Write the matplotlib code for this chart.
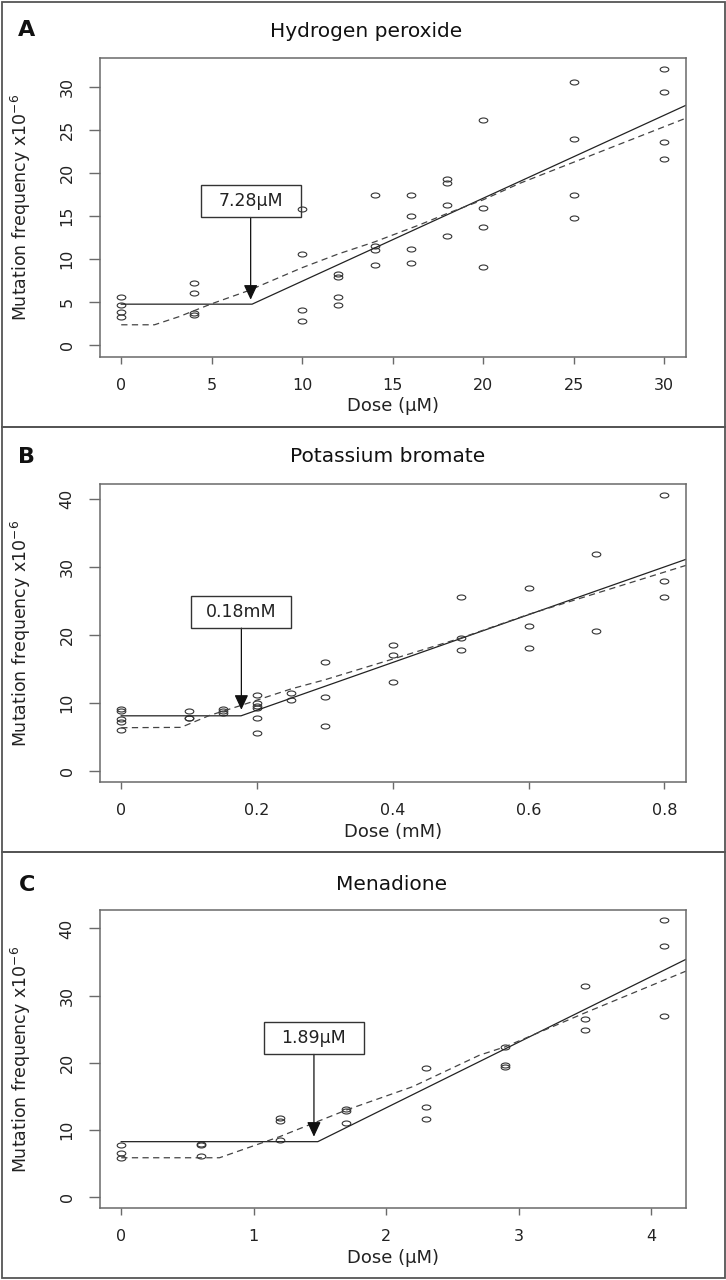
import numpy as np
import matplotlib
matplotlib.use("Agg")
import matplotlib.pyplot as plt
from matplotlib.path import Path
from matplotlib.transforms import Affine2D
from matplotlib.patches import Rectangle

# ---- data ----
# A: hydrogen peroxide
h2o2_dose = [0, 0, 0, 0, 4, 4, 4, 4, 10, 10, 10, 10, 12, 12, 12, 12,
             14, 14, 14, 14, 16, 16, 16, 16, 18, 18, 18, 18, 20, 20, 20, 20,
             25, 25, 25, 25, 30, 30, 30, 30]
h2o2_freq = [5.54, 4.65, 3.88, 3.22, 7.17, 6.05, 3.68, 3.49,
             15.78, 10.62, 4.03, 2.83, 8.22, 7.87, 5.54, 4.61,
             17.4, 11.47, 11.05, 9.26, 17.48, 15.04, 11.12, 9.53,
             19.3, 18.84, 16.32, 12.64, 26.2, 15.97, 13.76, 9.03,
             30.6, 23.99, 17.48, 14.77, 32.1, 29.5, 23.6, 21.6]
h2o2_fit_x = [0, 7.23, 31.2]
h2o2_fit_y = [4.75, 4.75, 27.9]
h2o2_smooth_x = [0, 1.84, 3.2, 5.0, 7.0, 10, 12, 14, 16.5, 18, 20, 22, 26, 31.2]
h2o2_smooth_y = [2.35, 2.35, 3.3, 4.8, 6.3, 9.0, 10.6, 12.0, 14.0, 15.3, 16.9, 18.8, 22.1, 26.4]

# B: potassium bromate
kbro3_dose = [0, 0, 0, 0, 0, 0.1, 0.1, 0.1, 0.15, 0.15, 0.15,
              0.2, 0.2, 0.2, 0.2, 0.2, 0.2, 0.25, 0.25, 0.3, 0.3, 0.3,
              0.4, 0.4, 0.4, 0.5, 0.5, 0.5, 0.6, 0.6, 0.6, 0.7, 0.7,
              0.8, 0.8, 0.8]
kbro3_freq = [9.18, 8.79, 7.61, 7.26, 6.13, 8.79, 7.9, 7.8, 9.08, 8.79, 8.59,
              11.14, 10.01, 9.57, 9.33, 7.9, 5.64, 11.48, 10.5, 16.05, 10.9, 6.63,
              18.5, 17.08, 13.15, 25.67, 19.53, 17.77, 26.94, 21.4, 18.06, 32.0, 20.66,
              40.69, 28.0, 25.57]
kbro3_fit_x = [0, 0.1765, 0.832]
kbro3_fit_y = [8.15, 8.15, 31.17]
kbro3_smooth_x = [0, 0.088, 0.13, 0.174, 0.25, 0.3, 0.4, 0.5, 0.6, 0.832]
kbro3_smooth_y = [6.4, 6.45, 8.2, 9.6, 12.1, 13.45, 16.5, 19.58, 23.07, 30.28]

# C: menadione
mena_dose = [0, 0, 0, 0.6, 0.6, 0.6, 1.2, 1.2, 1.2, 1.7, 1.7, 1.7,
             2.3, 2.3, 2.3, 2.9, 2.9, 2.9, 3.5, 3.5, 3.5, 4.1, 4.1, 4.1]
mena_freq = [7.65, 6.51, 5.76, 7.85, 7.65, 6.11, 11.73, 11.33, 8.4,
             13.02, 12.72, 10.98, 19.18, 13.37, 11.63, 22.36, 19.63, 19.33,
             31.45, 26.48, 24.84, 41.19, 37.42, 26.88]
mena_fit_x = [0, 1.484, 4.264]
mena_fit_y = [8.2, 8.2, 35.4]
mena_smooth_x = [0, 0.742, 1.195, 1.7, 2.2, 2.705, 2.9, 3.5, 4.264]
mena_smooth_y = [5.8, 5.8, 8.94, 12.92, 16.4, 21.1, 22.36, 27.4, 33.64]

titles = ["Hydrogen peroxide", "Potassium bromate", "Menadione"]
letters = ["A", "B", "C"]
xlabels = ["Dose (\u03bcM)", "Dose (mM)", "Dose (\u03bcM)"]
threshold_labels = ["7.28\u03bcM", "0.18mM", "1.89\u03bcM"]
arrow_x = [7.15, 0.177, 1.455]
arrow_tip_y = [5.27, 9.04, 8.94]
box_center_y = [16.7, 23.4, 23.6]
xticks = [[0, 5, 10, 15, 20, 25, 30], [0, 0.2, 0.4, 0.6, 0.8], [0, 1, 2, 3, 4]]
yticks = [[0, 5, 10, 15, 20, 25, 30], [0, 10, 20, 30, 40], [0, 10, 20, 30, 40]]
xlims = [(-1.2, 31.2), (-0.032, 0.832), (-0.164, 4.264)]
ylims = [(-1.4, 33.4), (-1.63, 42.25), (-1.74, 42.8)]

panels = [
    (h2o2_dose, h2o2_freq, h2o2_fit_x, h2o2_fit_y, h2o2_smooth_x, h2o2_smooth_y),
    (kbro3_dose, kbro3_freq, kbro3_fit_x, kbro3_fit_y, kbro3_smooth_x, kbro3_smooth_y),
    (mena_dose, mena_freq, mena_fit_x, mena_fit_y, mena_smooth_x, mena_smooth_y),
]

# ---- layout (pixels, top-left origin) ----
W, H = 726, 1280
ax_left, ax_right = 99.5, 686
ax_tops = [58, 484, 909.7]
ax_bottoms = [357, 782.3, 1208.3]
panel_tops = [1.7, 426.7, 852]
panel_bottoms = [426.7, 852, 1278]
title_pos = [(366, 31.7), (388, 456.7), (392, 885)]
letter_y = [30.5, 457, 885]

plt.rcParams['font.family'] = ['DejaVu Sans']
fig = plt.figure(figsize=(W / 100, H / 100), dpi=100)

# flattened circle marker, like the squashed R circles
ellipse = Path.unit_circle().transformed(Affine2D().scale(1.0, 0.58))

gray = "#6a6a6a"
for i in range(3):
    dose, freq, fx, fy, sx, sy = panels[i]

    # panel frame
    fig.add_artist(Rectangle((1.7 / W, 1 - panel_bottoms[i] / H),
                             (724.5 - 1.7) / W, (panel_bottoms[i] - panel_tops[i]) / H,
                             transform=fig.transFigure, fill=False,
                             edgecolor="#555555", linewidth=1.3))

    ax = fig.add_axes([ax_left / W, 1 - ax_bottoms[i] / H,
                       (ax_right - ax_left) / W, (ax_bottoms[i] - ax_tops[i]) / H])
    ax.plot(dose, freq, linestyle="none", marker=ellipse, markersize=6.2,
            markerfacecolor="none", markeredgecolor="#333333", markeredgewidth=0.8)
    ax.plot(fx, fy, color="#222222", linewidth=0.9)
    ax.plot(sx, sy, color="#444444", linewidth=0.9, linestyle=(0, (5, 3.5)))

    ax.set_xlim(*xlims[i])
    ax.set_ylim(*ylims[i])
    ax.set_xticks(xticks[i])
    ax.set_yticks(yticks[i])
    ax.set_xticklabels([f"{v:g}" for v in xticks[i]])
    ax.set_yticklabels([f"{v:g}" for v in yticks[i]], rotation=90, va="center")
    for s in ax.spines.values():
        s.set_color(gray)
        s.set_linewidth(1.1)
    ax.tick_params(axis="x", length=6.5 * 0.72, width=1.0, color=gray,
                   labelsize=11.5, pad=10.5, labelcolor="#222222")
    ax.tick_params(axis="y", length=11 * 0.72, width=1.0, color=gray,
                   labelsize=11.5, pad=10, labelcolor="#222222")
    ax.set_xlabel(xlabels[i], fontsize=13, color="#222222", labelpad=3)
    ax.set_ylabel("Mutation frequency x10$^{-6}$", fontsize=12.5, color="#222222")
    ax.yaxis.set_label_coords((33 - ax_left) / (ax_right - ax_left), 0.5)

    # threshold box + arrow
    cx, cy = ax.transData.transform((arrow_x[i], box_center_y[i]))
    (x0, y0) = ax.transData.inverted().transform((cx - 50, cy - 16))
    (x1, y1) = ax.transData.inverted().transform((cx + 50, cy + 16))
    ax.add_patch(Rectangle((x0, y0), x1 - x0, y1 - y0, fill=False,
                           edgecolor="#333333", linewidth=1.0, zorder=4))
    ax.text(arrow_x[i], box_center_y[i], threshold_labels[i], fontsize=12.5,
            ha="center", va="center", color="#222222", zorder=5)
    ax.annotate("", xy=(arrow_x[i], arrow_tip_y[i]), xytext=(arrow_x[i], y0),
                arrowprops=dict(arrowstyle="-|>,head_length=0.9,head_width=0.42",
                                color="#111111", linewidth=0.9,
                                shrinkA=0, shrinkB=0))

    fig.text(title_pos[i][0] / W, 1 - title_pos[i][1] / H, titles[i],
             fontsize=14.5, ha="center", va="center", color="#111111")
    fig.text(27 / W, 1 - letter_y[i] / H, letters[i], fontsize=16,
             fontweight="bold", ha="center", va="center", color="#111111")

fig.savefig("out.png", dpi=100)
